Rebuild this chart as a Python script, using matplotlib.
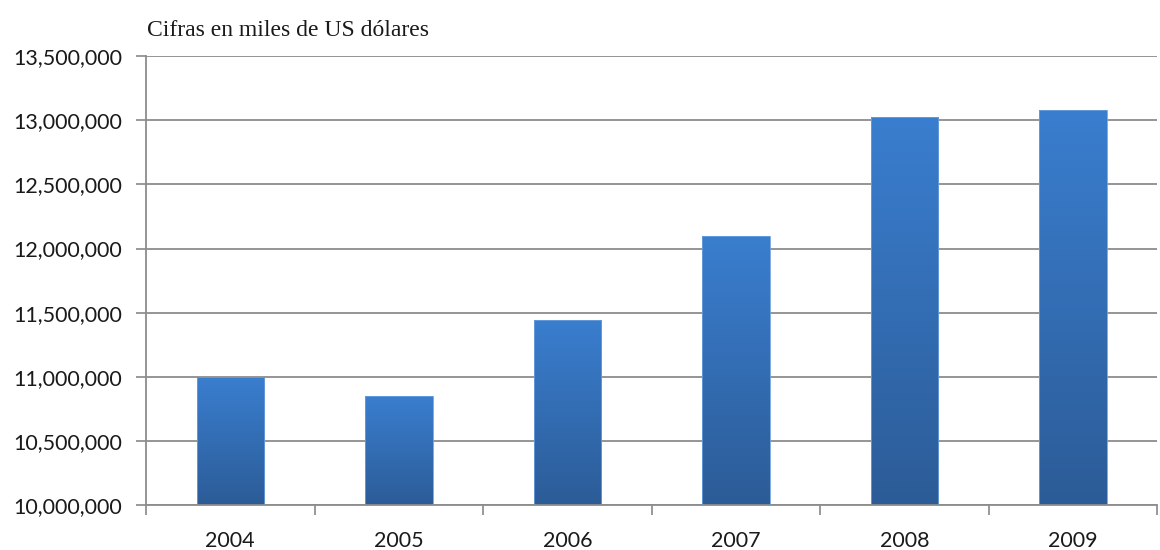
import numpy as np
import matplotlib.pyplot as plt
from matplotlib.colors import LinearSegmentedColormap
from matplotlib.ticker import FuncFormatter, MultipleLocator

years = ['2004', '2005', '2006', '2007', '2008', '2009']
values = [10995000, 10848000, 11446000, 12100000, 13025000, 13080000]

fig = plt.figure(figsize=(11.6, 5.5), dpi=100)
ax = fig.add_axes([0.1259, 0.0818, 0.8716, 0.816])

x = np.arange(len(years))
bars = ax.bar(x, [v - 10000000 for v in values], bottom=10000000, width=0.40,
              color='none', edgecolor='#6a9fdc', linewidth=0.6, zorder=3)

# vertical gradient inside each bar
cmap = LinearSegmentedColormap.from_list('bargrad', ['#2c5c97', '#3a7ecf'])
grad = np.linspace(0, 1, 256).reshape(-1, 1)
for b in bars:
    x0, y0 = b.get_x(), b.get_y()
    im = ax.imshow(grad, cmap=cmap, origin='lower', aspect='auto',
                   extent=[x0, x0 + b.get_width(), y0, y0 + b.get_height()],
                   zorder=2)
    im.set_clip_path(b)

ax.set_xlim(-0.5, len(years) - 0.5)
ax.set_ylim(10000000, 13500000)
ax.yaxis.set_major_locator(MultipleLocator(500000))
ax.yaxis.set_major_formatter(FuncFormatter(lambda v, p: f'{int(v):,}'))

ax.set_xticks(x)
ax.set_xticklabels(years)
ax.set_xticks(np.arange(len(years) + 1) - 0.5, minor=True)
ax.tick_params(axis='x', which='major', length=0, pad=19)
ax.tick_params(axis='x', which='minor', length=7, color='#888888', width=1.2)
ax.tick_params(axis='y', length=7, color='#888888', width=1.2, pad=10)

for lab in ax.get_xticklabels() + ax.get_yticklabels():
    lab.set_fontfamily('Lato')
    lab.set_fontsize(15.5)
    lab.set_color('#1a1a1a')

ax.grid(axis='y', color='#8c8c8c', linewidth=1.3, zorder=1)
ax.set_axisbelow(True)
for s in ['top', 'right']:
    ax.spines[s].set_visible(False)
ax.spines['left'].set_color('#8c8c8c')
ax.spines['left'].set_linewidth(1.3)
ax.spines['bottom'].set_color('#8c8c8c')
ax.spines['bottom'].set_linewidth(1.3)

fig.text(0.127, 0.944, 'Cifras en miles de US dólares', fontfamily='Liberation Serif',
         fontsize=17, color='#1a1a1a', va='center', ha='left')

fig.savefig('out.png', dpi=100)
